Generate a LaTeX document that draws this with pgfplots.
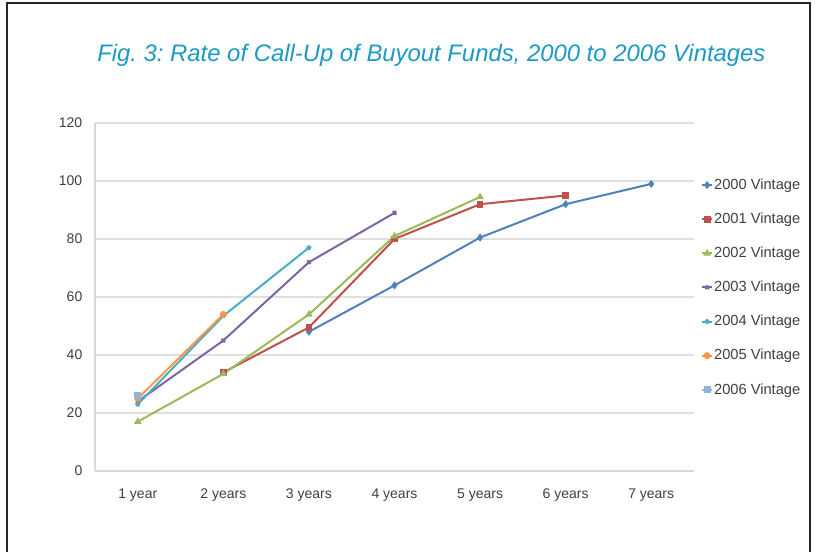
\documentclass[border=0pt]{standalone}
\usepackage{fontspec}
\setmainfont{Liberation Sans}
\usepackage{pgfplots}
\pgfplotsset{compat=1.18}
\definecolor{cA}{HTML}{4F81BD}
\definecolor{cB}{HTML}{C0504D}
\definecolor{cC}{HTML}{9BBB59}
\definecolor{cD}{HTML}{8064A2}
\definecolor{cE}{HTML}{4BACC6}
\definecolor{cF}{HTML}{F79646}
\definecolor{cG}{HTML}{95B3D7}
\definecolor{titlec}{HTML}{1B9BC4}
\definecolor{tickc}{HTML}{404040}
\frenchspacing
\begin{document}
\begin{tikzpicture}
\useasboundingbox (0pt,0pt) rectangle (611.25pt,414pt);
\fill[white] (0pt,0pt) rectangle (611.25pt,414pt);
\draw[line width=1.2pt, black!85] (5.25pt,-10pt) -- (5.25pt,411.75pt) -- (607.5pt,411.75pt) -- (607.5pt,-10pt);
\node[anchor=base west, font=\fontsize{17.9}{20}\selectfont\itshape, text=titlec, inner sep=0pt] at (72.75pt,367.5pt) {Fig. 3: Rate of Call-Up of Buyout Funds, 2000 to 2006 Vintages};
\begin{axis}[
  at={(71.25pt,60.75pt)}, anchor=south west,
  scale only axis, width=449.25pt, height=261pt,
  xmin=0.5, xmax=7.5, ymin=0, ymax=120,
  ytick={0,20,...,120}, xtick={1,...,7},
  xticklabels={1 year,2 years,3 years,4 years,5 years,6 years,7 years},
  axis x line=bottom, axis y line=left,
  axis line style={-, black!15, line width=0.8pt},
  ymajorgrids, grid style={black!12, line width=0.8pt},
  major tick length=0pt,
  /pgf/number format/assume math mode=true,
  tick label style={font=\fontsize{10.5}{12}\selectfont, text=tickc},
  yticklabel style={xshift=-6pt},
  xticklabel style={yshift=-9.5pt},
  every axis plot/.append style={line width=1.5pt, mark size=1.8pt, mark options={solid}},
  legend style={at={(1.012,0.848)}, anchor=north west, draw=none, fill=none,
    font=\fontsize{11}{12}\selectfont, text=tickc, row sep=12.1pt, inner sep=0pt,
    nodes={inner xsep=1pt}},
  legend cell align=left,
  legend image code/.code={\draw[mark repeat=2,mark phase=2] plot coordinates {(0pt,0pt)(3.5pt,0pt)(7pt,0pt)};},
]
\addplot[color=cA, mark=diamond*] coordinates {(3,48)(4,64)(5,80.5)(6,92)(7,99)};
\addlegendentry{2000 Vintage}
\addplot[color=cB, mark=square*] coordinates {(2,34)(3,49.5)(4,80)(5,92)(6,95)};
\addlegendentry{2001 Vintage}
\addplot[color=cC, mark=triangle*] coordinates {(1,17)(2,33.5)(3,54)(4,81)(5,94.5)};
\addlegendentry{2002 Vintage}
\addplot[color=cD, mark=x] coordinates {(1,24)(2,45)(3,72)(4,89)};
\addlegendentry{2003 Vintage}
\addplot[color=cE, mark=star] coordinates {(1,23)(2,53.5)(3,77)};
\addlegendentry{2004 Vintage}
\addplot[color=cF, mark=*] coordinates {(1,25)(2,54)};
\addlegendentry{2005 Vintage}
\addplot[color=cG, mark=square*] coordinates {(1,26)};
\addlegendentry{2006 Vintage}
\end{axis}
\end{tikzpicture}
\end{document}
